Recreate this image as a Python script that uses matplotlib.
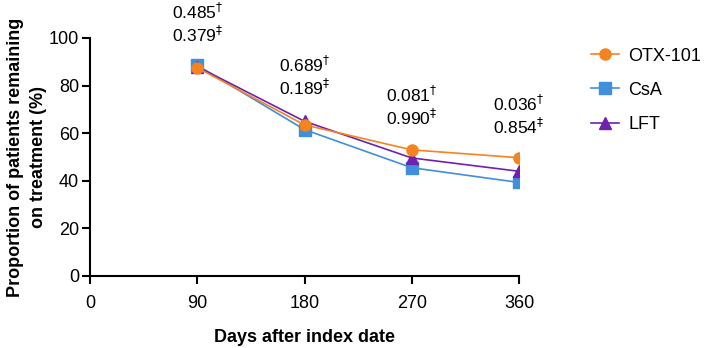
import numpy as np
import matplotlib.pyplot as plt

plt.rcParams['font.family'] = ['Liberation Sans', 'DejaVu Sans']

days = [90, 180, 270, 360]
otx = [87.5, 63.5, 53.0, 49.7]
csa = [88.5, 61.5, 45.5, 39.3]
lft = [88.0, 65.0, 49.6, 44.0]
p_dagger = ['0.485', '0.689', '0.081', '0.036']
p_ddagger = ['0.379', '0.189', '0.990', '0.854']
p_level = [111, 88.7, 76, 72.3]  # height of top label

fig = plt.figure(figsize=(7.07, 3.48), dpi=100)
ax = fig.add_axes([90/707, 1-276/348, (519-90)/707, (276-38)/348])

ax.plot(days, otx, color='#F5831F', marker='o', ms=8, lw=1.2, label='OTX-101', zorder=3)
ax.plot(days, csa, color='#3F8FDB', marker='s', ms=8, lw=1.2, label='CsA', zorder=2)
ax.plot(days, lft, color='#7020B0', marker='^', ms=8, lw=1.2, label='LFT', zorder=2)

for x, a, b, lv in zip(days, p_dagger, p_ddagger, p_level):
    ax.text(x, lv, a + '$^{\u2020}$', ha='center', va='center', fontsize=12.5, clip_on=False)
    ax.text(x, lv - 9.8, b + '$^{\u2021}$', ha='center', va='center', fontsize=12.5, clip_on=False)

ax.set_xlim(0, 360)
ax.set_ylim(0, 100)
ax.set_xticks([0, 90, 180, 270, 360])
ax.set_yticks([0, 20, 40, 60, 80, 100])
for s in ['top', 'right']:
    ax.spines[s].set_visible(False)
for s in ['left', 'bottom']:
    ax.spines[s].set_linewidth(1.5)
ax.tick_params(width=1.5, length=6, labelsize=13, colors='black')
ax.tick_params(axis='x', pad=8)
ax.tick_params(axis='y', pad=2)
ax.set_xlabel('Days after index date', fontsize=13, fontweight='bold', labelpad=12)
ax.set_ylabel('Proportion of patients remaining\non treatment (%)', fontsize=13, fontweight='bold',
              labelpad=1, linespacing=1.5)

ax.legend(loc='upper left', bbox_to_anchor=(1.15, 0.99), frameon=False, fontsize=13,
          handlelength=1.6, labelspacing=0.95, handletextpad=0.5, borderaxespad=0)

fig.savefig('out.png', dpi=100)
